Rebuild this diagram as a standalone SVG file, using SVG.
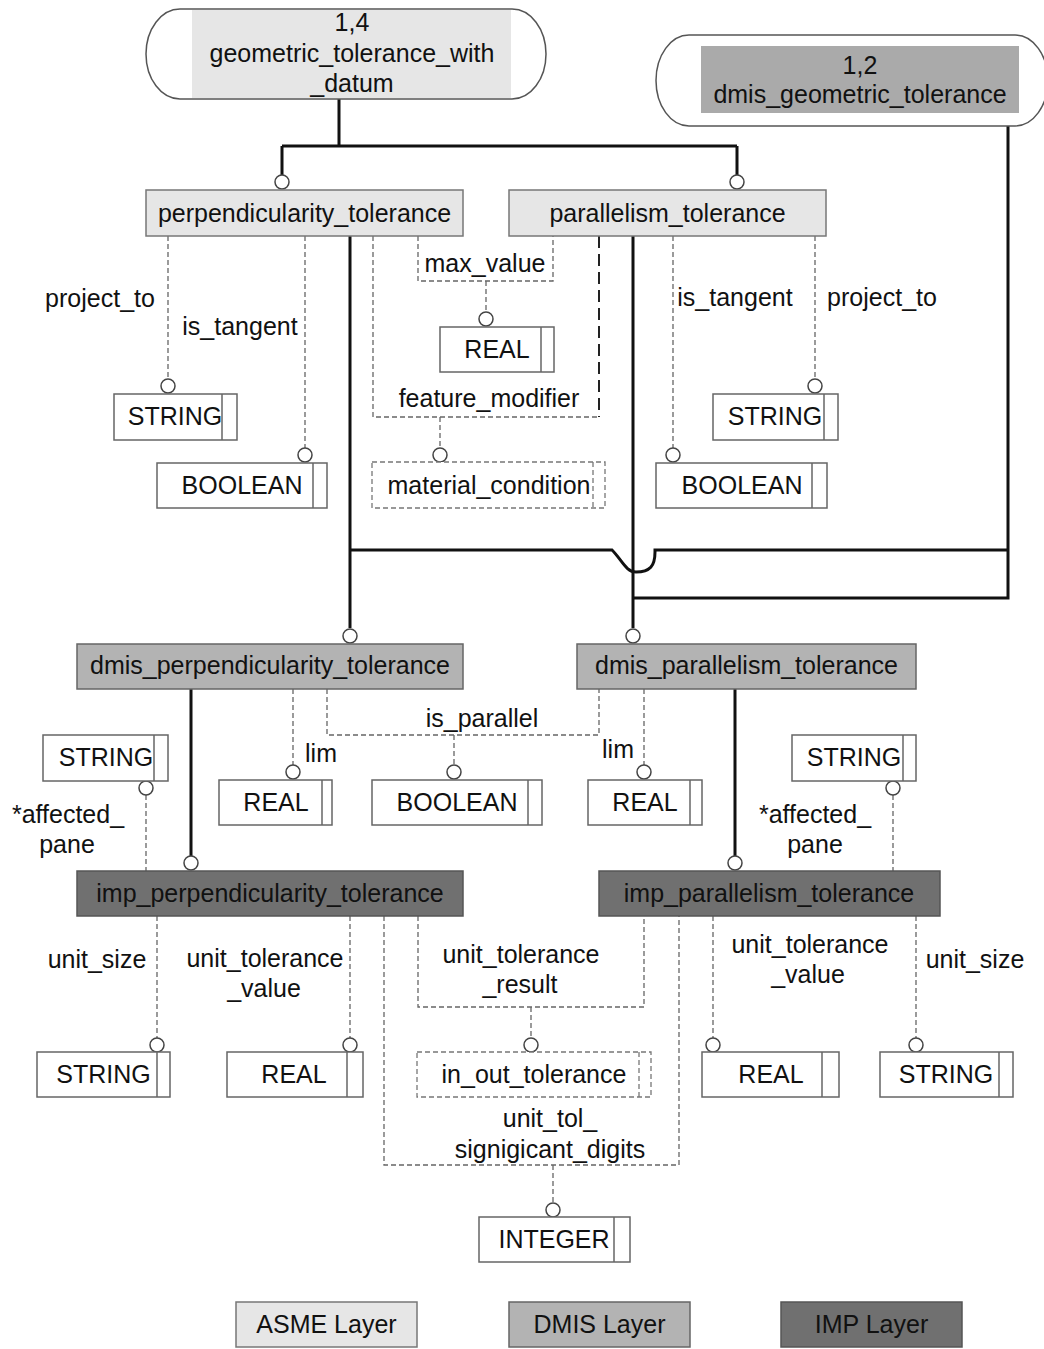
<svg xmlns="http://www.w3.org/2000/svg" width="1044" height="1349" viewBox="0 0 1044 1349">
<style>
.t{font-family:"Liberation Sans",Arial,sans-serif;font-size:25px;fill:#111;text-anchor:middle}
.asme{fill:#e6e6e6;stroke:#777;stroke-width:1.5}
.asmef{fill:#e6e6e6}
.dmis{fill:#b3b3b3;stroke:#666;stroke-width:1.5}
.dmisf{fill:#aaaaaa}
.imp{fill:#707070;stroke:#555;stroke-width:1.5}
.outl{fill:#fff;stroke:#555;stroke-width:1.5}
.type{fill:#fff;stroke:#666;stroke-width:1.5}
.dtype{fill:#fff;stroke:#777;stroke-width:1.3;stroke-dasharray:5 3}
.thick{fill:none;stroke:#111;stroke-width:3}
.dash{fill:none;stroke:#666;stroke-width:1.3;stroke-dasharray:5 3}
.ldash{fill:none;stroke:#222;stroke-width:2;stroke-dasharray:12 6}
.ring{fill:#fff;stroke:#444;stroke-width:1.5}
</style>
<rect width="1044" height="1349" fill="#fff"/>

<g id="connectors">
  <path class="thick" d="M339,99 V146 M282,146 H737 M282,146 V175 M737,146 V175"/>
  <path class="thick" d="M350,236 V628 M633,236 V628"/>
  <path class="thick" d="M1008,126 V598 H633"/>
  <path class="thick" d="M350,550 H612 C622,560 626,572 636,572 C650,572 655,566 655,552 V550 H1008"/>
  <path class="thick" d="M191,689 V856 M735,689 V856"/>
  <path class="dash" d="M168,236 V379 M305,236 V448"/>
  <path class="dash" d="M418,236 V281 H553 V236 M486,281 V312"/>
  <path class="dash" d="M373,236 V417 H599 M440,417 V448"/>
  <path class="ldash" d="M599,236 V417"/>
  <path class="dash" d="M673,236 V448 M815,236 V379"/>
  <path class="dash" d="M293,689 V765 M327,689 V735 H599 V689 M454,735 V765 M644,689 V765"/>
  <path class="dash" d="M146,795 V871 M893,795 V871"/>
  <path class="dash" d="M157,916 V1038 M350,916 V1038"/>
  <path class="dash" d="M418,916 V1007 H644 V916 M531,1007 V1038"/>
  <path class="dash" d="M384,916 V1165 H679 V916 M553,1165 V1202"/>
  <path class="dash" d="M713,916 V1038 M916,916 V1038"/>
  <circle class="ring" cx="282" cy="182" r="7"/>
  <circle class="ring" cx="737" cy="182" r="7"/>
  <circle class="ring" cx="350" cy="636" r="7"/>
  <circle class="ring" cx="633" cy="636" r="7"/>
  <circle class="ring" cx="191" cy="863" r="7"/>
  <circle class="ring" cx="735" cy="863" r="7"/>
  <circle class="ring" cx="168" cy="386" r="7"/>
  <circle class="ring" cx="305" cy="455" r="7"/>
  <circle class="ring" cx="486" cy="319" r="7"/>
  <circle class="ring" cx="440" cy="455" r="7"/>
  <circle class="ring" cx="673" cy="455" r="7"/>
  <circle class="ring" cx="815" cy="386" r="7"/>
  <circle class="ring" cx="293" cy="772" r="7"/>
  <circle class="ring" cx="454" cy="772" r="7"/>
  <circle class="ring" cx="644" cy="772" r="7"/>
  <circle class="ring" cx="146" cy="788" r="7"/>
  <circle class="ring" cx="893" cy="788" r="7"/>
  <circle class="ring" cx="157" cy="1045" r="7"/>
  <circle class="ring" cx="350" cy="1045" r="7"/>
  <circle class="ring" cx="531" cy="1045" r="7"/>
  <circle class="ring" cx="713" cy="1045" r="7"/>
  <circle class="ring" cx="916" cy="1045" r="7"/>
  <circle class="ring" cx="553" cy="1210" r="7"/>
  <g class="t">
    <text x="100" y="307">project_to</text>
    <text x="240" y="335">is_tangent</text>
    <text x="485" y="272">max_value</text>
    <text x="489" y="407">feature_modifier</text>
    <text x="735" y="306">is_tangent</text>
    <text x="882" y="306">project_to</text>
    <text x="68" y="823">*affected_</text>
    <text x="67" y="853">pane</text>
    <text x="321" y="762">lim</text>
    <text x="482" y="727">is_parallel</text>
    <text x="618" y="758">lim</text>
    <text x="815" y="823">*affected_</text>
    <text x="815" y="853">pane</text>
    <text x="97" y="968">unit_size</text>
    <text x="265" y="967">unit_tolerance</text>
    <text x="264" y="997">_value</text>
    <text x="521" y="963">unit_tolerance</text>
    <text x="520" y="993">_result</text>
    <text x="810" y="953">unit_tolerance</text>
    <text x="808" y="983">_value</text>
    <text x="975" y="968">unit_size</text>
    <text x="550" y="1127">unit_tol_</text>
    <text x="550" y="1158">signigicant_digits</text>
  </g>
</g>

<g id="geometric_tolerance_with_datum">
  <path class="outl" d="M180,9 H512 A34,45 0 0 1 512,99 H180 A34,45 0 0 1 180,9 Z"/>
  <rect class="asmef" x="192" y="10" width="319" height="88"/>
  <text class="t" x="352" y="31">1,4</text>
  <text class="t" x="352" y="62">geometric_tolerance_with</text>
  <text class="t" x="352" y="92">_datum</text>
</g>
<g id="dmis_geometric_tolerance">
  <path class="outl" d="M689,35 H1015 A33,45.5 0 0 1 1015,126 H689 A33,45.5 0 0 1 689,35 Z"/>
  <rect class="dmisf" x="701" y="46" width="318" height="67"/>
  <text class="t" x="860" y="74">1,2</text>
  <text class="t" x="860" y="103">dmis_geometric_tolerance</text>
</g>
<g id="perpendicularity_tolerance">
  <rect class="asme" x="146" y="190" width="317" height="46"/>
  <text class="t" x="304.5" y="222">perpendicularity_tolerance</text>
</g>
<g id="parallelism_tolerance">
  <rect class="asme" x="509" y="190" width="317" height="46"/>
  <text class="t" x="667.5" y="222">parallelism_tolerance</text>
</g>
<g id="string_perp_project_to">
  <rect class="type" x="114" y="394" width="123" height="46"/><path class="type" d="M222,394 V440"/>
  <text class="t" x="175" y="425">STRING</text>
</g>
<g id="boolean_perp_is_tangent">
  <rect class="type" x="157" y="463" width="170" height="45"/><path class="type" d="M313,463 V508"/>
  <text class="t" x="242" y="494">BOOLEAN</text>
</g>
<g id="real_max_value">
  <rect class="type" x="440" y="327" width="114" height="45"/><path class="type" d="M541,327 V372"/>
  <text class="t" x="497" y="358">REAL</text>
</g>
<g id="material_condition">
  <rect class="dtype" x="372" y="462" width="233" height="46"/><path class="dtype" d="M593,462 V508"/>
  <text class="t" x="489" y="494">material_condition</text>
</g>
<g id="string_par_project_to">
  <rect class="type" x="713" y="394" width="125" height="46"/><path class="type" d="M824,394 V440"/>
  <text class="t" x="775" y="425">STRING</text>
</g>
<g id="boolean_par_is_tangent">
  <rect class="type" x="656" y="463" width="171" height="45"/><path class="type" d="M812,463 V508"/>
  <text class="t" x="742" y="494">BOOLEAN</text>
</g>
<g id="dmis_perpendicularity_tolerance">
  <rect class="dmis" x="77" y="644" width="386" height="45"/>
  <text class="t" x="270" y="674">dmis_perpendicularity_tolerance</text>
</g>
<g id="dmis_parallelism_tolerance">
  <rect class="dmis" x="577" y="644" width="339" height="45"/>
  <text class="t" x="746.5" y="674">dmis_parallelism_tolerance</text>
</g>
<g id="string_perp_affected">
  <rect class="type" x="43" y="735" width="125" height="46"/><path class="type" d="M154,735 V781"/>
  <text class="t" x="106" y="766">STRING</text>
</g>
<g id="real_perp_lim">
  <rect class="type" x="219" y="780" width="113" height="45"/><path class="type" d="M322,780 V825"/>
  <text class="t" x="276" y="811">REAL</text>
</g>
<g id="boolean_is_parallel">
  <rect class="type" x="372" y="780" width="170" height="45"/><path class="type" d="M528,780 V825"/>
  <text class="t" x="457" y="811">BOOLEAN</text>
</g>
<g id="real_par_lim">
  <rect class="type" x="588" y="780" width="114" height="45"/><path class="type" d="M690,780 V825"/>
  <text class="t" x="645" y="811">REAL</text>
</g>
<g id="string_par_affected">
  <rect class="type" x="792" y="735" width="124" height="46"/><path class="type" d="M903,735 V781"/>
  <text class="t" x="854" y="766">STRING</text>
</g>
<g id="imp_perpendicularity_tolerance">
  <rect class="imp" x="77" y="871" width="386" height="45"/>
  <text class="t" x="270" y="902">imp_perpendicularity_tolerance</text>
</g>
<g id="imp_parallelism_tolerance">
  <rect class="imp" x="599" y="871" width="341" height="45"/>
  <text class="t" x="769" y="902">imp_parallelism_tolerance</text>
</g>
<g id="string_perp_unit_size">
  <rect class="type" x="37" y="1052" width="133" height="45"/><path class="type" d="M157,1052 V1097"/>
  <text class="t" x="103.5" y="1083">STRING</text>
</g>
<g id="real_perp_unit_tolerance_value">
  <rect class="type" x="227" y="1052" width="136" height="45"/><path class="type" d="M347,1052 V1097"/>
  <text class="t" x="294" y="1083">REAL</text>
</g>
<g id="in_out_tolerance">
  <rect class="dtype" x="417" y="1052" width="234" height="45"/><path class="dtype" d="M639,1052 V1097"/>
  <text class="t" x="534" y="1083">in_out_tolerance</text>
</g>
<g id="real_par_unit_tolerance_value">
  <rect class="type" x="702" y="1052" width="137" height="45"/><path class="type" d="M822,1052 V1097"/>
  <text class="t" x="771" y="1083">REAL</text>
</g>
<g id="string_par_unit_size">
  <rect class="type" x="880" y="1052" width="133" height="45"/><path class="type" d="M999,1052 V1097"/>
  <text class="t" x="946" y="1083">STRING</text>
</g>
<g id="integer_unit_tol_significant_digits">
  <rect class="type" x="479" y="1217" width="151" height="45"/><path class="type" d="M614,1217 V1262"/>
  <text class="t" x="554" y="1248">INTEGER</text>
</g>
<g id="legend_asme">
  <rect class="asme" x="236" y="1302" width="181" height="45"/>
  <text class="t" x="326.5" y="1333">ASME Layer</text>
</g>
<g id="legend_dmis">
  <rect class="dmis" x="509" y="1302" width="181" height="45"/>
  <text class="t" x="599.5" y="1333">DMIS Layer</text>
</g>
<g id="legend_imp">
  <rect class="imp" x="781" y="1302" width="181" height="45"/>
  <text class="t" x="871.5" y="1333">IMP Layer</text>
</g>
</svg>
